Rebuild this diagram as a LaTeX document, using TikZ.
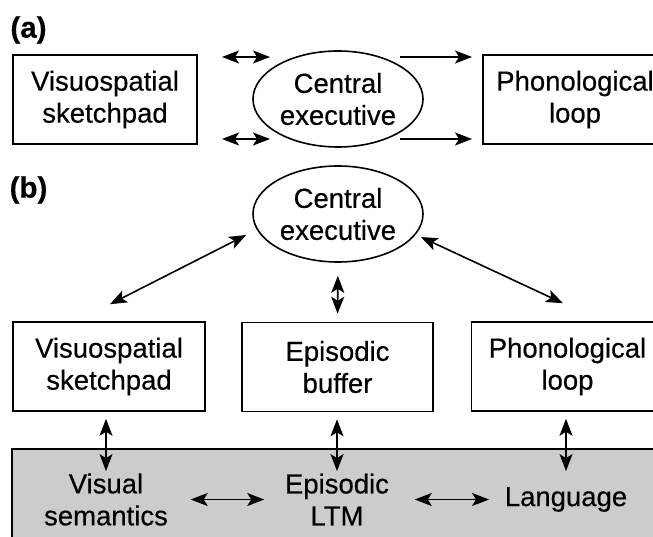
\documentclass[tikz,border=0pt]{standalone}
\usepackage{fontspec}
\setmainfont[FakeBold=0.4]{Liberation Sans}
\usetikzlibrary{arrows.meta}
\usetikzlibrary{shapes.geometric}
\usetikzlibrary{calc}
\tikzset{
  store/.style={draw, align=center, inner sep=0pt, minimum height=89pt},
  control/.style={draw, ellipse, align=center, inner sep=0pt,
    minimum width=170pt, minimum height=96pt},
  ltm/.style={align=center, inner sep=0pt},
  panel/.style={font=\fontsize{29.5}{34}\selectfont\bfseries}
}

\begin{document}
\begin{tikzpicture}[x=1pt, y=1pt,
% filled arrow heads for every connector
>={Stealth[length=17pt,width=13pt,inset=4pt]}, line width=1.6pt,
font=\fontsize{27.5}{32}\selectfont]

\useasboundingbox (0,0) rectangle (653,536);
\clip (0,0) rectangle (653,536);

% (a) three components
\node[panel] (laba) at (28.5,506) {(a)};
\node[store, minimum width=184pt] (vsa) at (105,436.5) {Visuospatial\\sketchpad};
\node[control] (cea) at (338,437) {Central\\executive};
\node[store, minimum width=184pt] (pla) at (575,436.5) {Phonological\\loop};

\foreach \n/\y in {t/479,b/397} {
  \coordinate (vs\n) at (222,\y);
  \coordinate (ce\n) at (270,\y);
  \coordinate (cx\n) at (400,\y);
  \coordinate (pl\n) at (472,\y);
  \draw[<->] (vs\n) -- (ce\n);
  \draw[->] (cx\n) -- (pl\n);
}

% (b) with the episodic buffer
\node[panel] (labb) at (28.5,346) {(b)};
\node[control] (ceb) at (338,322) {Central\\executive};
\node[store, minimum width=192pt] (vsb) at (109,169.5) {Visuospatial\\sketchpad};
\node[store, minimum width=191pt] (epb) at (337.5,169) {Episodic\\buffer};
\node[store, minimum width=192pt] (plb) at (567.5,169.5) {Phonological\\loop};

\draw[<->] ($(ceb.west)+(-6,-21)$) -- ($(vsb.north)+(1,17)$);
\draw[<->, shorten <=13pt, shorten >=8pt] (ceb.south) -- (epb.north);
\draw[<->] ($(ceb.east)+(-3,-23)$) -- ($(plb.north)+(-4.5,18)$);

% long-term memory
\draw[fill=gray!40] (12,-20) rectangle (700,87);
\node[ltm] (vis) at (106,36.5) {Visual\\semantics};
\node[ltm] (elt) at (337,36.5) {Episodic\\LTM};
\node[ltm] (lan) at (566,36.5) {Language};

\foreach \u/\l in {vsb/vis,epb/elt,plb/lan}
  \draw[<->, shorten <=7pt, shorten >=1.5pt] (\u.south -| \l) -- (\l |- vis.north);
\draw[<->, shorten <=22pt, shorten >=20pt] (vis) -- (elt);
\draw[<->, shorten <=25pt, shorten >=15pt] (elt) -- (lan);
\end{tikzpicture}
\end{document}
